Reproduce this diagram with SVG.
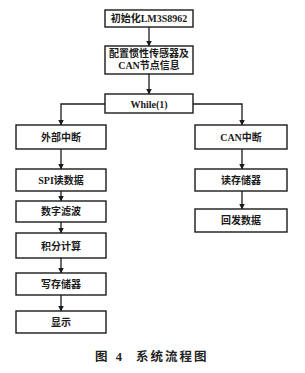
<svg xmlns="http://www.w3.org/2000/svg" width="305" height="373" viewBox="0 0 305 373">
<style>
.box{fill:#fff;stroke:#1a1a1a;stroke-width:1.4}
.t{font-family:"Liberation Serif","Noto Sans CJK SC",serif;font-size:10px;font-weight:bold;fill:#1a1a1a;text-anchor:middle;dominant-baseline:central}
.c{stroke:#1a1a1a;stroke-width:1.3;fill:none}
.cap{font-family:"Liberation Serif","Noto Sans CJK SC",serif;font-size:12.5px;font-weight:bold;fill:#222}
</style>
<defs>
<marker id="ah" markerWidth="6" markerHeight="6" refX="5.5" refY="3" orient="auto" markerUnits="userSpaceOnUse">
<path d="M0,0 L6,3 L0,6 Z" fill="#1a1a1a"/>
</marker>
</defs>
<rect width="305" height="373" fill="#fff"/>
<g id="connectors">
<line class="c" x1="149" y1="27" x2="149" y2="46" marker-end="url(#ah)"/>
<line class="c" x1="149" y1="74" x2="149" y2="94" marker-end="url(#ah)"/>
<polyline class="c" points="105,104 61,104 61,125" marker-end="url(#ah)"/>
<polyline class="c" points="193,104 242,104 242,125" marker-end="url(#ah)"/>
<line class="c" x1="61" y1="149" x2="61" y2="169" marker-end="url(#ah)"/>
<line class="c" x1="61" y1="191" x2="61" y2="201" marker-end="url(#ah)"/>
<line class="c" x1="61" y1="222" x2="61" y2="233" marker-end="url(#ah)"/>
<line class="c" x1="61" y1="258" x2="61" y2="273" marker-end="url(#ah)"/>
<line class="c" x1="61" y1="295" x2="61" y2="311" marker-end="url(#ah)"/>
<line class="c" x1="242" y1="149" x2="242" y2="169" marker-end="url(#ah)"/>
<line class="c" x1="242" y1="191" x2="242" y2="209" marker-end="url(#ah)"/>
</g>
<g id="init"><rect class="box" x="105" y="10" width="88" height="17"/><text class="t" x="149" y="18.5">初始化LM3S8962</text></g>
<g id="config"><rect class="box" x="105" y="46" width="88" height="28"/><text class="t" x="149" y="53.5">配置惯性传感器及</text><text class="t" x="149" y="65.5">CAN节点信息</text></g>
<g id="while"><rect class="box" x="105" y="94" width="88" height="19"/><text class="t" x="149" y="104">While(1)</text></g>
<g id="ext"><rect class="box" x="16" y="125" width="90" height="24"/><text class="t" x="61" y="137">外部中断</text></g>
<g id="spi"><rect class="box" x="16" y="169" width="90" height="22"/><text class="t" x="61" y="180">SPI读数据</text></g>
<g id="filter"><rect class="box" x="16" y="201" width="90" height="21"/><text class="t" x="61" y="211.5">数字滤波</text></g>
<g id="integ"><rect class="box" x="16" y="233" width="90" height="25"/><text class="t" x="61" y="246">积分计算</text></g>
<g id="write"><rect class="box" x="16" y="273" width="90" height="22"/><text class="t" x="61" y="284">写存储器</text></g>
<g id="disp"><rect class="box" x="16" y="311" width="90" height="22"/><text class="t" x="61" y="322">显示</text></g>
<g id="can"><rect class="box" x="195" y="125" width="92" height="24"/><text class="t" x="241" y="137">CAN中断</text></g>
<g id="read"><rect class="box" x="195" y="169" width="92" height="22"/><text class="t" x="241" y="180">读存储器</text></g>
<g id="reply"><rect class="box" x="195" y="209" width="92" height="23"/><text class="t" x="241" y="220.5">回发数据</text></g>
<g id="caption"><text class="cap" x="95" y="361" letter-spacing="2.5">图 4</text><text class="cap" x="136" y="361" letter-spacing="2">系统流程图</text></g>
</svg>
